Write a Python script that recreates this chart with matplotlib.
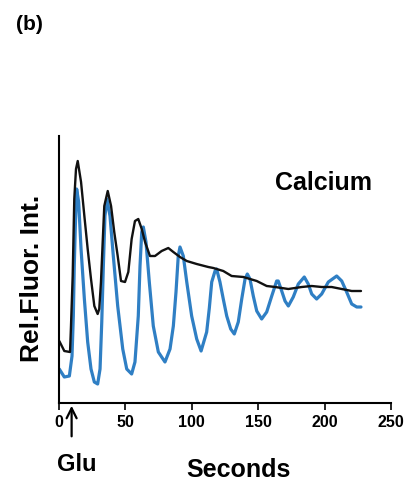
import matplotlib
matplotlib.use("Agg")
import matplotlib.pyplot as plt

plt.rcParams['font.family'] = ['Liberation Sans', 'DejaVu Sans']

# Calcium trace (black), time in seconds, relative fluorescence (arbitrary units)
black_t = [0.2, 4.0, 8.3, 9.0, 10.3, 11.5, 12.8, 14.1, 16.6, 19.1, 21.6, 24.1, 26.6, 29.1,
           30.3, 31.6, 32.9, 34.1, 36.7, 39.2, 41.6, 44.2, 46.7, 49.7, 52.2, 54.7, 57.2,
           59.7, 62.3, 64.8, 68.5, 72.3, 77.3, 82.3, 86.1, 91.1, 96.2, 103.7, 112.4, 116.2,
           123.7, 130.0, 138.8, 148.9, 156.4, 162.7, 172.7, 182.8, 190.3, 197.8, 205.3,
           212.9, 220.4, 227.4]
black_y = [62, 52, 51, 76, 127, 204, 234, 242, 221, 187, 154, 124, 97, 89,
           94, 121, 161, 197, 212, 197, 171, 147, 122, 121, 131, 164, 182,
           184, 174, 161, 147, 147, 152, 155, 151, 146, 142, 139, 136, 135,
           132, 127, 126, 122, 117, 116, 114, 116, 117, 116, 116,
           114, 112, 112]

# Oscillating trace (blue)
blue_t = [0.2, 4.0, 7.8, 9.8, 10.8, 11.5, 12.3, 13.3, 14.8, 16.6, 19.1, 21.6, 24.1, 26.6,
          29.1, 30.9, 32.2, 33.4, 34.6, 36.1, 38.4, 40.9, 44.2, 48.0, 51.0, 54.7, 57.2,
          59.7, 61.0, 62.3, 63.5, 65.5, 68.0, 71.0, 74.8, 79.8, 83.6, 86.1, 88.1, 89.8,
          91.1, 93.6, 96.2, 99.9, 103.7, 107.0, 111.2, 113.2, 115.0, 117.5, 118.7, 121.2,
          123.7, 126.3, 129.3, 132.0, 135.0, 137.6, 140.1, 141.8, 143.8, 146.3, 148.9,
          152.6, 156.4, 160.2, 163.9, 165.1, 167.7, 170.2, 172.7, 176.4, 180.2, 184.7,
          187.7, 190.3, 194.0, 197.8, 202.8, 209.1, 212.9, 216.6, 220.4, 224.2, 227.4]
blue_y = [34, 26, 27, 47, 87, 137, 177, 214, 201, 154, 104, 61, 34, 21,
          19, 34, 81, 137, 187, 204, 187, 147, 97, 54, 34, 29, 41,
          87, 137, 171, 176, 161, 121, 77, 51, 41, 54, 77, 111, 147,
          156, 147, 121, 87, 64, 52, 71, 95, 121, 132, 134, 121,
          104, 87, 74, 69, 81, 104, 124, 129, 124, 107, 92,
          84, 91, 107, 122, 122, 112, 102, 97, 106, 119, 126,
          119, 109, 104, 109, 121, 127, 122, 111, 99, 96, 96]

xticks = [0, 50, 100, 150, 200, 250]
glu_time = 9.5

fig = plt.figure(figsize=(4.06, 4.81), dpi=100)
ax = fig.add_axes([59/406, 1 - 404/481, 332/406, 267/481])

ax.plot(blue_t, blue_y, color='#2f7fc4', lw=2.3, solid_joinstyle='round',
        solid_capstyle='round')
ax.plot(black_t, black_y, color='#111111', lw=1.7, solid_joinstyle='round',
        solid_capstyle='round')

ax.set_xlim(0, 250)
ax.set_ylim(0, 267)
ax.set_xticks(xticks)
ax.set_xticklabels([str(v) for v in xticks], fontsize=11.5, fontweight='bold')
ax.set_yticks([])
for s in ['top', 'right']:
    ax.spines[s].set_visible(False)
for s in ['left', 'bottom']:
    ax.spines[s].set_linewidth(1.5)
ax.tick_params(axis='x', length=5, width=1.2, pad=3)

fig.text(32/406, 1 - 278/481, 'Rel.Fluor. Int.', fontsize=19, fontweight='bold',
         rotation=90, ha='center', va='center')

fig.text(324/406, 1 - 183/481, 'Calcium', fontsize=18, fontweight='bold',
         ha='center', va='center')

ax.annotate('', xy=(glu_time, 0), xycoords='data',
            xytext=(glu_time, -26), textcoords=('data', 'offset points'),
            arrowprops=dict(arrowstyle='->', lw=1.6, color='black', mutation_scale=18),
            annotation_clip=False)

fig.text(77/406, 1 - 465/481, 'Glu', fontsize=17, fontweight='bold', ha='center', va='center')
fig.text(238/406, 1 - 470/481, 'Seconds', fontsize=18, fontweight='bold', ha='center', va='center')
fig.text(29/406, 1 - 25/481, '(b)', fontsize=15, fontweight='bold', ha='center', va='center')

fig.savefig('out.png', dpi=100)
